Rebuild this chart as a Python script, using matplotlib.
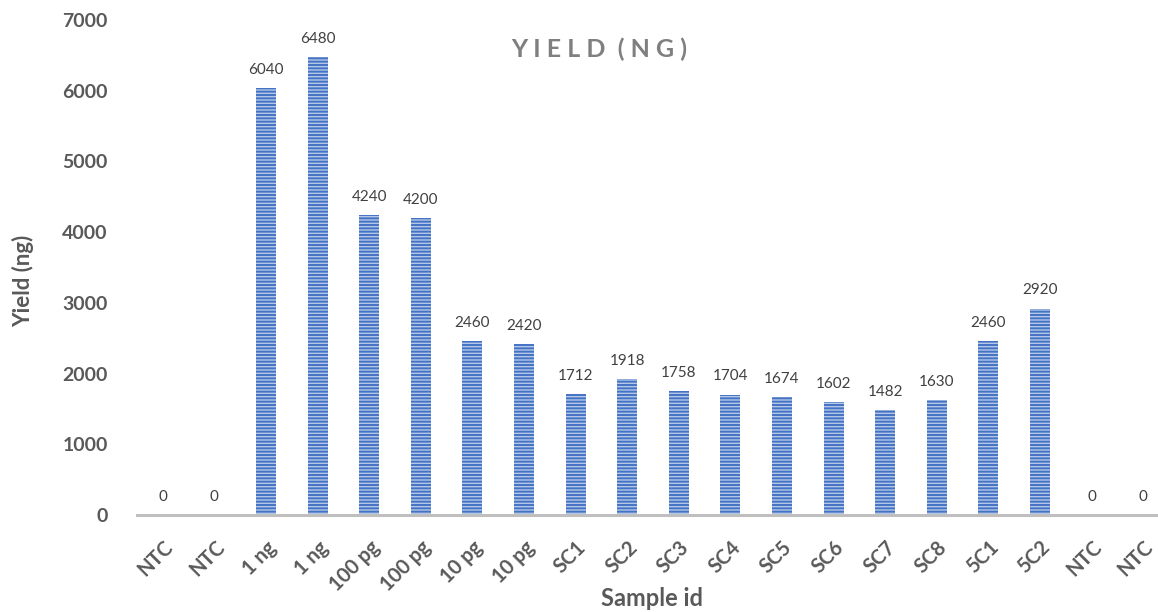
import matplotlib
matplotlib.use("Agg")
import matplotlib.pyplot as plt

samples = ["NTC", "NTC", "1 ng", "1 ng", "100 pg", "100 pg", "10 pg", "10 pg",
           "SC1", "SC2", "SC3", "SC4", "SC5", "SC6", "SC7", "SC8",
           "5C1", "5C2", "NTC", "NTC"]
yield_ng = [0, 0, 6040, 6480, 4240, 4200, 2460, 2420,
            1712, 1918, 1758, 1704, 1674, 1602, 1482, 1630,
            2460, 2920, 0, 0]
y_ticks = [0, 1000, 2000, 3000, 4000, 5000, 6000, 7000]

plt.rcParams["font.family"] = ["Lato", "DejaVu Sans"]
plt.rcParams["hatch.linewidth"] = 1.4

W, H = 1158, 612
fig = plt.figure(figsize=(W / 100, H / 100), dpi=100)
left_px, right_px = 137, 1169
bottom_px, top_px = 515, 20
ax = fig.add_axes([left_px / W, 1 - bottom_px / H,
                   (right_px - left_px) / W, (bottom_px - top_px) / H])

x = list(range(len(samples)))
ax.bar(x, yield_ng, width=0.39, color="#B4C7E7", edgecolor="#4472C4",
       linewidth=0, hatch="-----", zorder=2)

for xi, v in zip(x, yield_ng):
    ax.annotate(f"{v}", (xi, v), xytext=(0, 8), textcoords="offset points",
                ha="center", va="bottom", fontsize=11, color="#404040")

ax.set_xlim(-0.5, len(samples) - 0.5)
ax.set_ylim(0, 7000)
ax.set_yticks(y_ticks)
ax.set_yticklabels([str(t) for t in y_ticks], fontsize=14, fontweight="bold",
                   color="#595959")
ax.set_xticks(x)
ax.set_xticklabels(samples, rotation=45, ha="right", rotation_mode="anchor",
                   fontsize=14.5, fontweight="bold", color="#595959")
ax.tick_params(axis="both", length=0)
ax.tick_params(axis="y", pad=21)
ax.tick_params(axis="x", pad=16)

for side in ("top", "right", "left"):
    ax.spines[side].set_visible(False)
ax.spines["bottom"].set_color("#BFBFBF")
ax.spines["bottom"].set_linewidth(2.2)
ax.spines["bottom"].set_zorder(3)

fig.text(599 / W, 1 - 49 / H, "Y I E L D  ( N G )", ha="center", va="center",
         fontsize=18, fontweight="bold", color="#7F7F7F")
fig.text(23 / W, 1 - 281 / H, "Yield (ng)", rotation=90, ha="center",
         va="center", fontsize=16, fontweight="bold", color="#595959")
fig.text(652 / W, 1 - 598 / H, "Sample id", ha="center", va="center",
         fontsize=17, fontweight="bold", color="#595959")

fig.savefig("out.png", dpi=100)
